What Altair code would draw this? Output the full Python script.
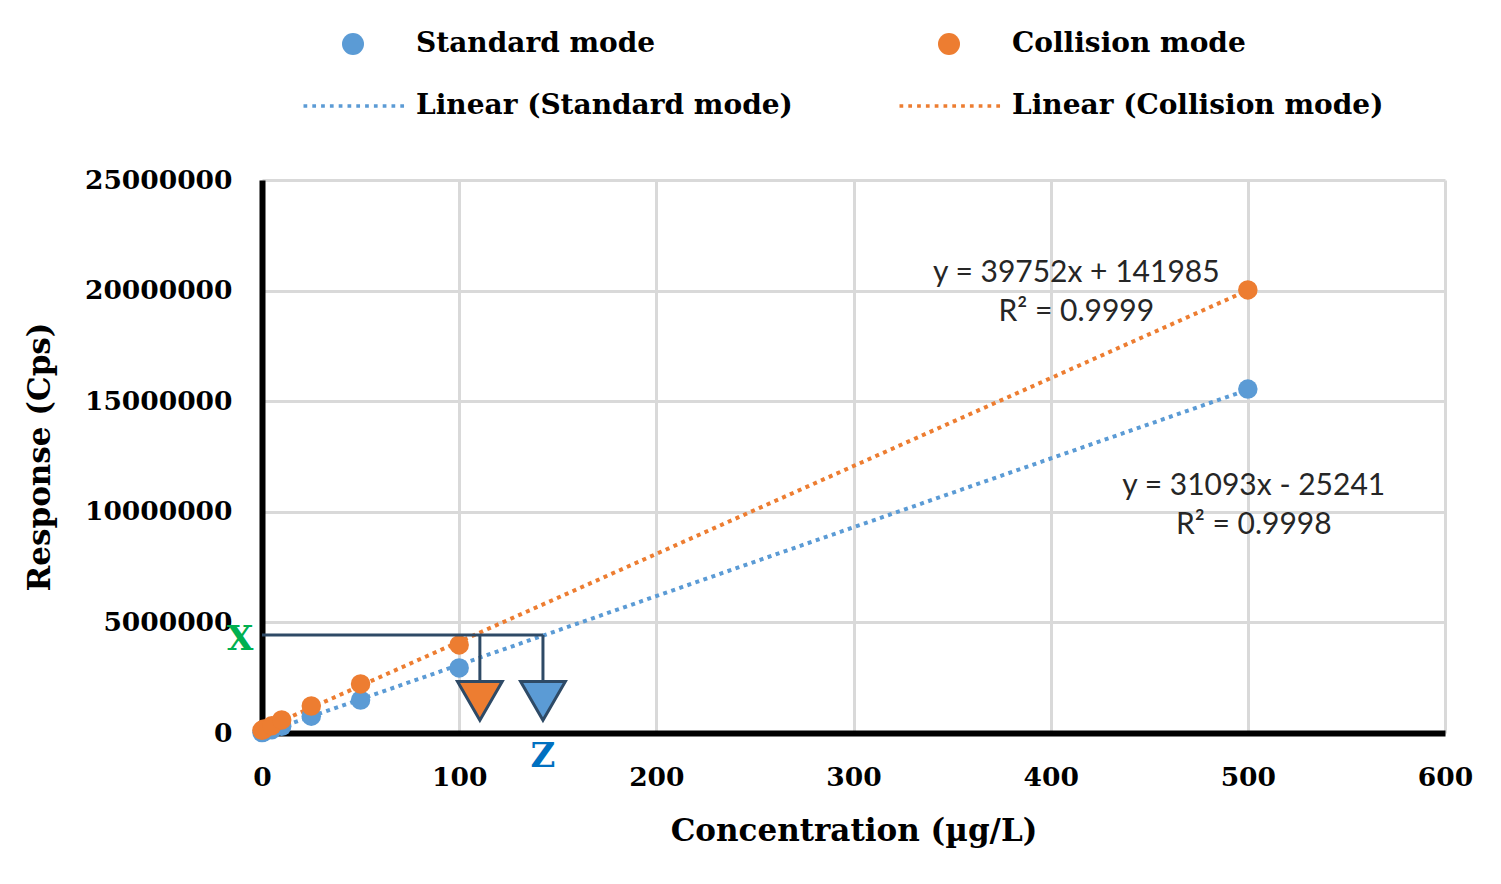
import altair as alt
import pandas as pd

# ---------------- data ----------------
conc = [0, 1, 5, 10, 25, 50, 100, 500]
standard_resp = [20000, 50000, 150000, 300000, 760000, 1490000, 2940000, 15550000]
collision_resp = [120000, 180000, 330000, 590000, 1220000, 2220000, 3980000, 20030000]

series_names = ["Standard mode", "Collision mode"]
legend_labels = ["Standard mode", "Collision mode",
                 "Linear (Standard mode)", "Linear (Collision mode)"]
blue = "#5B9BD5"
orange = "#ED7D31"

eq_texts = ["y = 39752x + 141985\nR² = 0.9999", "y = 31093x - 25241\nR² = 0.9998"]
eq_x = [413, 503]
eq_y = [20.81e6, 11.17e6]

x_level = 4430000          # horizontal read-off line "X"
arrow_x = [110.5, 142.5]
arrow_fill = [orange, blue]
arrow_stem_end = 2150000
arrow_head_y = 1450000

x_ticks = [0, 100, 200, 300, 400, 500, 600]
y_ticks = [0, 5000000, 10000000, 15000000, 20000000, 25000000]

# ---------------- tables ----------------
pts = pd.DataFrame({
    "x": conc * 2,
    "y": standard_resp + collision_resp,
    "series": [series_names[0]] * len(conc) + [series_names[1]] * len(conc),
})
pts["legend"] = pts["series"]

eq_df = pd.DataFrame({"x": eq_x, "y": eq_y, "t": eq_texts})
hline_df = pd.DataFrame({"x": [0], "x2": [max(arrow_x)], "y": [x_level]})
vline_df = pd.DataFrame({"x": arrow_x, "y": [x_level] * 2, "y2": [arrow_stem_end] * 2})
head_df = pd.DataFrame({"x": arrow_x, "y": [arrow_head_y] * 2, "c": arrow_fill})
xlab_df = pd.DataFrame({"x": [-11], "y": [4200000], "t": ["X"]})
zlab_df = pd.DataFrame({"x": [max(arrow_x)], "y": [-1100000], "t": ["Z"]})

# dotted-line legend symbol (unit box scaled by sqrt(size)/2)
dots = "".join(f"M{-4.5 + i * 0.8:.2f},-0.17h0.34v0.34h-0.34Z" for i in range(12))

serif = "DejaVu Serif"

xs = alt.Scale(domain=[0, 600], nice=False)
ys = alt.Scale(domain=[0, 25000000], nice=False)

x_axis = alt.Axis(values=x_ticks, title="Concentration (µg/L)", labelFont=serif,
                  labelFontSize=26.5, labelFontWeight="bold", labelColor="black",
                  labelPadding=31, labelFlush=False, titleFont=serif, titleFontSize=31,
                  titleFontWeight="bold", titleColor="black", titlePadding=26,
                  domainColor="black", domainWidth=6, ticks=False,
                  gridColor="#D9D9D9", gridWidth=3)
y_axis = alt.Axis(values=y_ticks, format="d", title="Response (Cps)", labelFont=serif,
                  labelFontSize=26.5, labelFontWeight="bold", labelColor="black",
                  labelPadding=30, labelFlush=False, titleFont=serif, titleFontSize=31,
                  titleFontWeight="bold", titleColor="black", titlePadding=28,
                  domainColor="black", domainWidth=6, ticks=False,
                  gridColor="#D9D9D9", gridWidth=3)

base_x = alt.X("x:Q", scale=xs, axis=x_axis)
base_y = alt.Y("y:Q", scale=ys, axis=y_axis)

# regression trend lines
def trend(name, color):
    return alt.Chart(pts).transform_filter(
        alt.datum.series == name
    ).transform_regression("x", "y", method="linear", extent=[0, 500]).mark_line(
        color=color, strokeWidth=4, strokeDash=[4, 4.5], strokeCap="butt"
    ).encode(x=alt.X("x:Q", scale=xs), y=alt.Y("y:Q", scale=ys))

lines = trend(series_names[0], blue) + trend(series_names[1], orange)

legend = alt.Legend(orient="none", legendX=77, legendY=-150, columns=2,
                    direction="horizontal", title=None,
                    symbolSize=484, symbolStrokeWidth=0, labelOffset=49,
                    columnPadding=106, rowPadding=34, labelFont=serif,
                    labelFontSize=28, labelFontWeight="bold", labelColor="black",
                    labelLimit=0)

points = alt.Chart(pts).mark_point(filled=True, size=380, opacity=1).encode(
    x=base_x, y=base_y,
    color=alt.Color("legend:N", scale=alt.Scale(domain=legend_labels,
                                                range=[blue, orange, blue, orange]),
                    legend=legend),
    shape=alt.Shape("legend:N", scale=alt.Scale(domain=legend_labels,
                                                range=["circle", "circle", dots, dots]),
                    legend=legend),
)

eqs = alt.Chart(eq_df).mark_text(font="Lato", fontSize=30, color="#262626",
                                 align="center", baseline="middle", lineBreak="\n",
                                 lineHeight=39).encode(
    x=alt.X("x:Q", scale=xs), y=alt.Y("y:Q", scale=ys), text="t:N")

bracket_color = "#2E4A66"
hline = alt.Chart(hline_df).mark_rule(color=bracket_color, strokeWidth=3).encode(
    x=alt.X("x:Q", scale=xs), x2="x2:Q", y=alt.Y("y:Q", scale=ys))
vlines = alt.Chart(vline_df).mark_rule(color=bracket_color, strokeWidth=3).encode(
    x=alt.X("x:Q", scale=xs), y=alt.Y("y:Q", scale=ys), y2="y2:Q")
heads = alt.Chart(head_df).mark_point(shape="triangle-down", filled=True, size=2000,
                                      stroke=bracket_color, strokeWidth=3,
                                      opacity=1).encode(
    x=alt.X("x:Q", scale=xs), y=alt.Y("y:Q", scale=ys),
    fill=alt.Fill("c:N", scale=None))

xlab = alt.Chart(xlab_df).mark_text(font=serif, fontSize=34, fontWeight="bold",
                                    color="#00B050", align="center",
                                    baseline="middle").encode(
    x=alt.X("x:Q", scale=xs), y=alt.Y("y:Q", scale=ys), text="t:N")
zlab = alt.Chart(zlab_df).mark_text(font=serif, fontSize=34, fontWeight="bold",
                                    color="#0070C0", align="center",
                                    baseline="middle").encode(
    x=alt.X("x:Q", scale=xs), y=alt.Y("y:Q", scale=ys), text="t:N")

chart = alt.layer(lines, points, eqs, hline, vlines, heads, xlab, zlab).properties(
    width=1183, height=553,
    autosize=alt.AutoSizeParams(type="none"),
    padding={"left": 262, "top": 180, "right": 56, "bottom": 151},
    background="white",
).configure_view(stroke=None)

chart.save("out.html", embed_options={"renderer": "svg", "actions": False})
